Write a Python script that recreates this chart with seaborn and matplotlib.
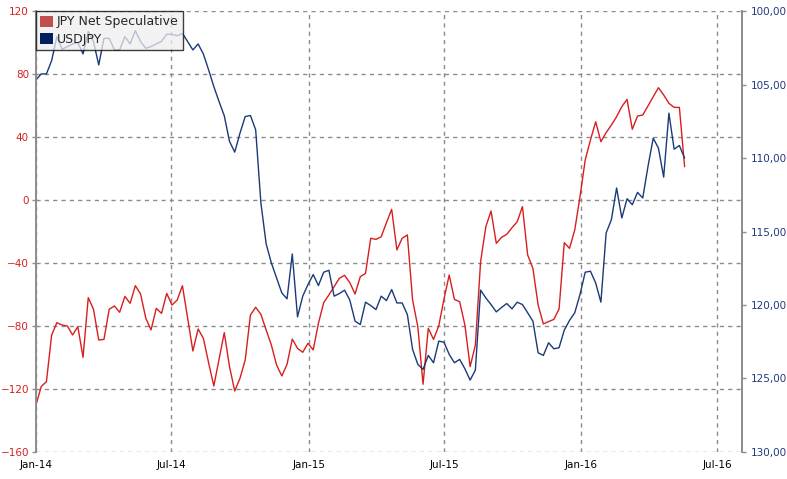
import numpy as np
import pandas as pd
import matplotlib
matplotlib.use("Agg")
import matplotlib.pyplot as plt
import matplotlib.dates as mdates
from matplotlib.ticker import FuncFormatter, MultipleLocator
from matplotlib.patches import Patch
import seaborn as sns

# weekly observations, first one at the start of Jan-14
START_DATE = "2014-01-01"

jpy_net_spec = [
    -130.2, -118.5, -115.3, -85.7, -77.9, -79.4, -80.0, -85.7, -80.4, -99.9,
    -62.0, -69.4, -88.9, -88.5, -69.4, -67.3, -71.3, -61.2, -65.6, -54.4,
    -59.7, -75.1, -82.5, -68.8, -72.0, -59.3, -66.7, -63.5, -54.4, -75.1,
    -95.9, -81.9, -87.8, -103.3, -118.1, -101.2, -84.2, -105.8, -121.3, -113.2,
    -101.6, -73.0, -68.1, -72.6, -82.5, -92.1, -104.8, -111.7, -104.3, -88.3,
    -94.2, -96.7, -91.0, -95.2, -78.3, -65.2, -60.3, -55.0, -49.7, -47.8,
    -52.5, -59.7, -48.7, -46.6, -24.3, -25.0, -23.3, -14.4, -5.9, -31.7,
    -24.3, -22.2, -63.5, -80.4, -117.0, -81.5, -88.5, -80.0, -62.9, -47.6,
    -63.1, -64.6, -79.4, -105.8, -92.1, -39.2, -16.9, -7.0, -27.5, -23.7,
    -21.8, -17.6, -13.8, -4.2, -34.9, -43.4, -66.7, -78.7, -77.2, -75.8,
    -69.2, -27.1, -30.7, -19.0, 2.1, 25.4, 38.1, 49.7, 37.0, 42.8,
    47.6, 52.9, 59.3, 63.9, 44.9, 53.3, 54.0, 59.7, 65.6, 71.3,
    66.7, 61.4, 58.8, 58.8, 21.2,
]

usdjpy = [
    104.69, 104.28, 104.28, 103.37, 101.74, 102.60, 102.42, 102.24, 102.15, 102.92,
    101.40, 102.08, 103.67, 101.86, 101.86, 102.65, 102.65, 101.74, 102.24, 101.34,
    102.08, 102.54, 102.42, 102.24, 102.06, 101.58, 101.58, 101.68, 101.52, 102.08,
    102.65, 102.24, 102.92, 104.00, 105.14, 106.16, 107.13, 108.87, 109.60, 108.31,
    107.18, 107.11, 108.08, 113.06, 115.83, 117.14, 118.16, 119.18, 119.58, 116.53,
    120.81, 119.40, 118.61, 117.93, 118.68, 117.77, 117.64, 119.40, 119.22, 118.99,
    119.67, 121.10, 121.33, 119.81, 120.04, 120.31, 119.40, 119.70, 118.95, 119.86,
    119.86, 120.65, 123.02, 124.04, 124.38, 123.43, 123.93, 122.46, 122.53, 123.36,
    123.93, 123.70, 124.34, 125.11, 124.43, 118.99, 119.52, 119.97, 120.47, 120.17,
    119.90, 120.26, 119.81, 119.97, 120.53, 121.10, 123.25, 123.43, 122.57, 122.98,
    122.91, 121.71, 121.05, 120.53, 119.29, 117.77, 117.70, 118.50, 119.81, 115.10,
    114.20, 112.04, 114.08, 112.77, 113.18, 112.34, 112.72, 110.57, 108.65, 109.33,
    111.30, 106.95, 109.40, 109.15, 110.01,
]

RED = "#d81e1e"
NAVY = "#1b3a78"
GRID = "#8c8c8c"

df = pd.DataFrame({
    "date": pd.date_range(START_DATE, periods=len(usdjpy), freq="7D"),
    "JPY Net Speculative": jpy_net_spec,
    "USDJPY": usdjpy,
})

sns.set_style("white")
plt.rcParams["font.family"] = ["DejaVu Sans"]

fig, ax = plt.subplots(figsize=(7.87, 4.79), dpi=100)
fig.subplots_adjust(left=0.0457, right=0.943, top=0.977, bottom=0.0564)
ax2 = ax.twinx()

sns.lineplot(data=df, x="date", y="JPY Net Speculative", ax=ax, color=RED, lw=1.0)
sns.lineplot(data=df, x="date", y="USDJPY", ax=ax2, color=NAVY, lw=1.0)

# left axis
ax.set_ylim(-160, 120)
ax.yaxis.set_major_locator(MultipleLocator(40))
ax.set_xlim(pd.Timestamp("2014-01-01"), pd.Timestamp("2016-08-03"))
ax.xaxis.set_major_locator(mdates.MonthLocator(bymonth=[1, 7]))
ax.xaxis.set_major_formatter(mdates.DateFormatter("%b-%y"))
ax.set_xlabel("")
ax.set_ylabel("")
ax.tick_params(axis="y", color=GRID, labelcolor="#d42020", labelsize=7.5,
               length=3, width=1, pad=2, direction="out", left=True)
ax.tick_params(axis="x", labelsize=7.5, length=0, pad=6, labelcolor="black")
ax.grid(True, which="major", color=GRID, ls=(0, (3, 3)), lw=1)

# right axis, inverted
ax2.set_ylim(130, 100)
ax2.yaxis.set_major_locator(MultipleLocator(5))
ax2.yaxis.set_major_formatter(FuncFormatter(lambda v, p: f"{v:.2f}".replace(".", ",")))
ax2.set_ylabel("")
ax2.tick_params(axis="y", color=GRID, labelcolor="#1f3a80", labelsize=7.5,
                length=3, width=1, pad=3, direction="out")
ax2.grid(False)

for a in (ax, ax2):
    a.spines["top"].set_visible(False)
    a.spines["bottom"].set_visible(False)
    a.spines["left"].set_color(GRID)
    a.spines["right"].set_color(GRID)
    a.spines["left"].set_linewidth(1.2)
    a.spines["right"].set_linewidth(1.2)

handles = [Patch(facecolor="#c0504d", edgecolor="none"), Patch(facecolor="#002060", edgecolor="none")]
leg = ax2.legend(handles, ["JPY Net Speculative", "USDJPY"], loc="upper left",
                 bbox_to_anchor=(0.0, 1.0), borderaxespad=0, fontsize=9,
                 handlelength=1.0, handleheight=1.0, handletextpad=0.3,
                 borderpad=0.35, labelspacing=0.35, fancybox=False,
                 framealpha=0.75, facecolor="#eeeeee", edgecolor="black")
leg.get_frame().set_linewidth(1.0)

fig.savefig("out.png", dpi=100)
